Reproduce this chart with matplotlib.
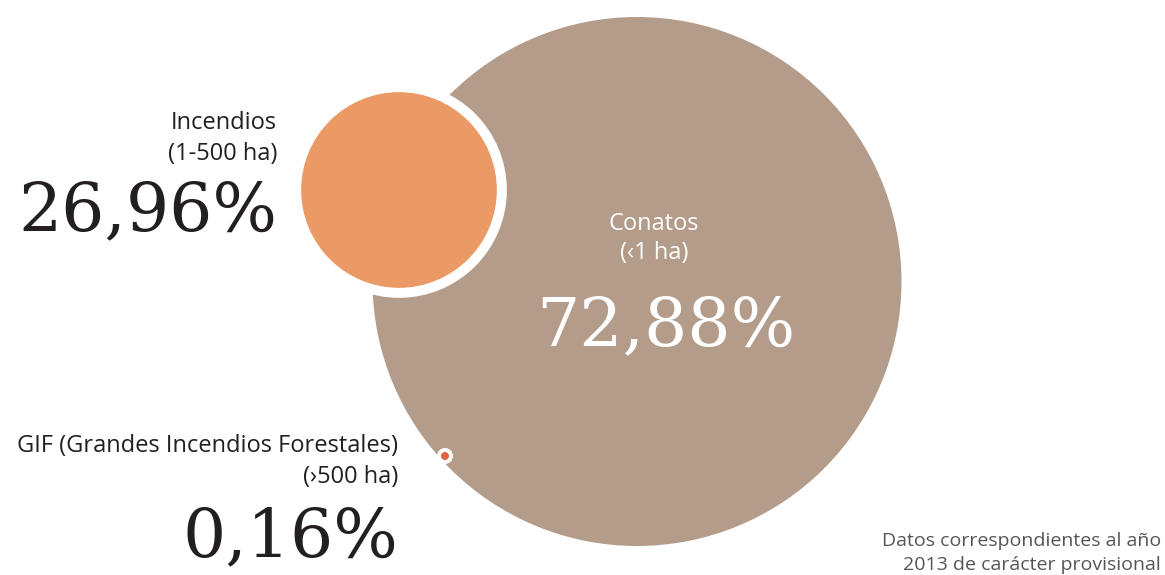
import matplotlib
matplotlib.use("Agg")
import matplotlib.pyplot as plt
from matplotlib.patches import Circle

# Distribution of forest fires by burned area, 2013
categories = ["Conatos", "Incendios", "GIF (Grandes Incendios Forestales)"]
size_ranges = ["(\u20391 ha)", "(1-500 ha)", "(\u203a500 ha)"]
shares = [72.88, 26.96, 0.16]
colors = ["#b49c8a", "#eb9a66", "#e0603f"]
footnote = ["Datos correspondientes al año", "2013 de carácter provisional"]

W, H = 1165, 575
fig = plt.figure(figsize=(W / 100, H / 100), dpi=100)
ax = fig.add_axes([0, 0, 1, 1])
ax.set_xlim(0, W)
ax.set_ylim(H, 0)
ax.set_aspect("equal")
ax.axis("off")

# bubble radius grows linearly with the share; tiny shares get a minimum dot
px_per_pct = 264.5 / 72.88
min_radius = 4.0
radii = [max(v * px_per_pct, min_radius) for v in shares]

centers = [(637, 281.5), (399, 190), (445, 456)]
ring = [0, 10, 4]

for (cx, cy), r, c, w in zip(centers, radii, colors, ring):
    if w:
        ax.add_patch(Circle((cx, cy), r + w, facecolor="white", edgecolor="none"))
    ax.add_patch(Circle((cx, cy), r, facecolor=c, edgecolor="none"))

sans = ["Open Sans", "DejaVu Sans"]
serif = ["DejaVu Serif"]
dark = "#231f20"
label_fs = 17
big_fs = 49


def pct(v):
    return f"{v:.2f}%".replace(".", ",")


# Conatos label inside the large bubble
ax.text(654, 230, categories[0], ha="center", va="baseline", fontsize=label_fs,
        color="white", family=sans)
ax.text(654, 259, size_ranges[0], ha="center", va="baseline", fontsize=label_fs,
        color="white", family=sans)
ax.text(666, 345, pct(shares[0]), ha="center", va="baseline", fontsize=big_fs,
        color="white", family=serif)

# Incendios label
ax.text(277, 129, categories[1], ha="right", va="baseline", fontsize=label_fs,
        color=dark, family=sans)
ax.text(277, 160, size_ranges[1], ha="right", va="baseline", fontsize=label_fs,
        color=dark, family=sans)
ax.text(277, 230, pct(shares[1]), ha="right", va="baseline", fontsize=big_fs,
        color=dark, family=serif)

# GIF label
ax.text(398, 452, categories[2], ha="right", va="baseline", fontsize=label_fs,
        color=dark, family=sans)
ax.text(398, 483, size_ranges[2], ha="right", va="baseline", fontsize=label_fs,
        color=dark, family=sans)
ax.text(398, 556, pct(shares[2]), ha="right", va="baseline", fontsize=big_fs,
        color=dark, family=serif)

# source note
ax.text(1161, 546, footnote[0], ha="right", va="baseline", fontsize=14,
        color="#555555", family=sans)
ax.text(1161, 570, footnote[1], ha="right", va="baseline", fontsize=14,
        color="#555555", family=sans)

fig.savefig("out.png", dpi=100, facecolor="white")
